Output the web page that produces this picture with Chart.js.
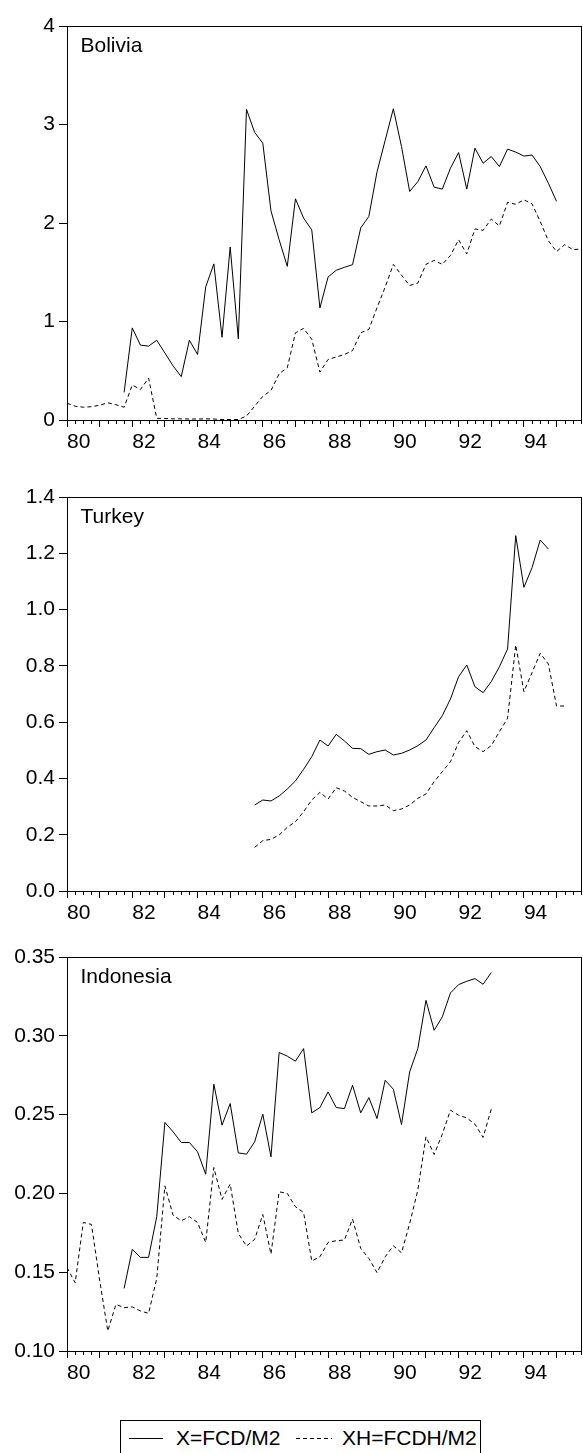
<!DOCTYPE html>
<html><head><meta charset="utf-8">
<script src="https://cdn.jsdelivr.net/npm/chart.js@4.4.1/dist/chart.umd.min.js"></script>
<style>
html,body{margin:0;padding:0;background:#fff;}
body{width:583px;height:1453px;overflow:hidden;position:relative;font-family:"Liberation Sans",Arial,sans-serif;color:#000;}
.panel{position:absolute;left:0;width:583px;height:454px;}
#legend{position:absolute;left:120px;top:1420px;width:361px;height:60px;border:1px solid #000;box-sizing:border-box;}
#legend span{position:absolute;top:5px;font-size:21px;line-height:24px;white-space:nowrap;}
#legend svg{position:absolute;top:0;left:0;}
</style></head><body>
<div class="panel" style="top:6px"><canvas id="c1"></canvas></div>
<div class="panel" style="top:477px"><canvas id="c2"></canvas></div>
<div class="panel" style="top:937px"><canvas id="c3"></canvas></div>
<div id="legend">
  <svg width="361" height="40"><line x1="8" y1="17.5" x2="42" y2="17.5" stroke="#000" stroke-width="1"/><line x1="175" y1="17.5" x2="211" y2="17.5" stroke="#000" stroke-width="1" stroke-dasharray="4,3"/></svg>
  <span style="left:55px">X=FCD/M2</span>
  <span style="left:221px">XH=FCDH/M2</span>
</div>
<script>
// quarterly observations 1980Q1 (index 0) .. 1995Q4 (index 63)
const nQuarters = 64;
const yearTickIdx = [0,4,8,12,16,20,24,28,32,36,40,44,48,52,56,60];
const yearTickLabels = ['80','','82','','84','','86','','88','','90','','92','','94',''];

// Bolivia
const boliviaXStart = 7;
const boliviaX = [0.28,0.935,0.76,0.75,0.81,0.68,0.55,0.44,0.81,0.665,1.35,1.585,0.84,1.756,0.824,3.154,2.92,2.81,2.124,1.83,1.56,2.246,2.05,1.93,1.138,1.452,1.52,1.55,1.577,1.95,2.067,2.52,2.84,3.16,2.776,2.32,2.42,2.58,2.364,2.344,2.557,2.715,2.344,2.76,2.607,2.675,2.573,2.75,2.72,2.68,2.69,2.573,2.404,2.22];
const boliviaXHStart = 0;
const boliviaXH = [0.17,0.14,0.13,0.135,0.15,0.175,0.155,0.13,0.355,0.31,0.425,0.017,0.015,0.012,0.012,0.01,0.01,0.012,0.01,0.005,0.005,0.005,0.04,0.14,0.24,0.30,0.47,0.53,0.885,0.93,0.82,0.486,0.615,0.64,0.665,0.705,0.885,0.92,1.14,1.35,1.58,1.47,1.365,1.39,1.58,1.62,1.58,1.67,1.83,1.685,1.94,1.925,2.04,1.97,2.21,2.19,2.235,2.195,2.015,1.82,1.71,1.78,1.73,1.735];
const boliviaYTicks = [0,1,2,3,4];
const boliviaYLabels = ['0','1','2','3','4'];

// Turkey
const turkeyXStart = 23;
const turkeyX = [0.3056,0.3233,0.3198,0.3376,0.3624,0.3909,0.4323,0.4773,0.5365,0.5152,0.5567,0.533,0.5069,0.5057,0.4856,0.4951,0.501,0.4832,0.4892,0.501,0.5164,0.5365,0.5804,0.623,0.6822,0.7616,0.803,0.726,0.7047,0.7438,0.7971,0.8599,1.2626,1.079,1.1489,1.2472,1.2152];
const turkeyXHStart = 23;
const turkeyXH = [0.1552,0.1788,0.1836,0.199,0.2262,0.2464,0.2819,0.3233,0.3506,0.3269,0.3671,0.3553,0.3328,0.3174,0.302,0.302,0.3056,0.2854,0.2914,0.3056,0.3293,0.3447,0.3885,0.424,0.4596,0.5283,0.5697,0.5129,0.4951,0.5164,0.5662,0.6135,0.8741,0.7083,0.7758,0.8445,0.8066,0.6574,0.6574];
const turkeyYTicks = [0,0.2,0.4,0.6,0.8,1.0,1.2,1.4];
const turkeyYLabels = ['0.0','0.2','0.4','0.6','0.8','1.0','1.2','1.4'];

// Indonesia
const indonesiaXStart = 7;
const indonesiaX = [0.1397,0.1645,0.1594,0.1594,0.1852,0.245,0.2391,0.2323,0.2323,0.2264,0.2122,0.2693,0.2433,0.257,0.2257,0.2249,0.2327,0.2503,0.2232,0.2894,0.2871,0.2839,0.2919,0.2511,0.2545,0.2644,0.2545,0.2538,0.2686,0.2511,0.2608,0.2475,0.2718,0.2661,0.2437,0.2771,0.2919,0.3225,0.3035,0.312,0.3272,0.3325,0.3346,0.3363,0.3327,0.3401];
const indonesiaXHStart = 0;
const indonesiaXH = [0.153,0.1433,0.1816,0.1803,0.145,0.1127,0.1296,0.1275,0.128,0.1254,0.1239,0.146,0.2048,0.1862,0.1826,0.1852,0.1816,0.1689,0.2164,0.1962,0.2059,0.1746,0.1666,0.1708,0.1866,0.1615,0.201,0.2,0.1915,0.1879,0.1571,0.1598,0.1689,0.17,0.1704,0.1837,0.1651,0.1587,0.1497,0.1598,0.1668,0.1623,0.1809,0.2021,0.2359,0.2247,0.2376,0.2528,0.2496,0.2479,0.2439,0.2355,0.2534];
const indonesiaYTicks = [0.10,0.15,0.20,0.25,0.30,0.35];
const indonesiaYLabels = ['0.10','0.15','0.20','0.25','0.30','0.35'];

const FONT = '"Liberation Sans", Arial, sans-serif';

function toPoints(start, vals){ return vals.map((v,i)=>({x:start+i, y:v})); }

const framePlugin = {
  id:'frameAndMinor',
  afterDraw(chart){
    const ctx = chart.ctx, ca = chart.chartArea, xs = chart.scales.x;
    ctx.save();
    ctx.strokeStyle = '#000'; ctx.lineWidth = 1;
    const L = Math.round(ca.left), R = Math.round(ca.right), T = Math.round(ca.top), B = Math.round(ca.bottom);
    ctx.strokeRect(L+0.5, T+0.5, R-L, B-T);
    ctx.beginPath();
    for(let q=0;q<nQuarters;q++){
      if(q%4===0) continue;
      const px = Math.round(xs.getPixelForValue(q))+0.5;
      ctx.moveTo(px, B+0.5); ctx.lineTo(px, B+4);
    }
    ctx.stroke();
    const t = chart.options.plugins.panelTitle;
    if(t && t.text){
      ctx.fillStyle = '#000';
      ctx.font = '21px ' + FONT;
      ctx.textBaseline = 'alphabetic';
      ctx.textAlign = 'left';
      ctx.fillText(t.text, ca.left + 13.5, ca.top + 26);
    }
    ctx.restore();
  }
};

function makeChart(id, title, xStart, xVals, xhStart, xhVals, yTicks, yLabels){
  new Chart(document.getElementById(id), {
    type:'line',
    data:{datasets:[
      {label:'X=FCD/M2', data:toPoints(xStart,xVals), borderColor:'#000', borderWidth:1, pointRadius:0, tension:0, fill:false},
      {label:'XH=FCDH/M2', data:toPoints(xhStart,xhVals), borderColor:'#000', borderWidth:1, borderDash:[4,3], pointRadius:0, tension:0, fill:false}
    ]},
    options:{
      responsive:true, maintainAspectRatio:false, animation:false, devicePixelRatio:1,
      layout:{padding:{top:20, right:2, left:0, bottom:0}},
      plugins:{legend:{display:false}, tooltip:{enabled:false}, title:{display:false}, panelTitle:{text:title}},
      scales:{
        x:{type:'linear', min:0, max:nQuarters-1,
          afterBuildTicks(s){ s.ticks = yearTickIdx.map(v=>({value:v})); },
          afterFit(s){ s.height = 40; },
          grid:{drawOnChartArea:false, drawTicks:true, tickLength:7, tickColor:'#000', tickWidth:1},
          border:{display:true, color:'#000', width:1},
          ticks:{align:'start', padding:3, autoSkip:false, maxRotation:0, minRotation:0, color:'#000',
            font:{family:FONT, size:21},
            callback(v, i){ return yearTickLabels[i]; }}
        },
        y:{type:'linear', min:yTicks[0], max:yTicks[yTicks.length-1],
          afterBuildTicks(s){ s.ticks = yTicks.map(v=>({value:v})); },
          afterFit(s){ s.width = 67; },
          grid:{drawOnChartArea:false, drawTicks:true, tickLength:8, tickColor:'#000', tickWidth:1},
          border:{display:true, color:'#000', width:1},
          ticks:{padding:4, color:'#000', font:{family:FONT, size:21},
            callback(v, i){ return yLabels[i]; }}
        }
      }
    },
    plugins:[framePlugin]
  });
}

makeChart('c1','Bolivia', boliviaXStart, boliviaX, boliviaXHStart, boliviaXH, boliviaYTicks, boliviaYLabels);
makeChart('c2','Turkey', turkeyXStart, turkeyX, turkeyXHStart, turkeyXH, turkeyYTicks, turkeyYLabels);
makeChart('c3','Indonesia', indonesiaXStart, indonesiaX, indonesiaXHStart, indonesiaXH, indonesiaYTicks, indonesiaYLabels);
</script>
</body></html>
